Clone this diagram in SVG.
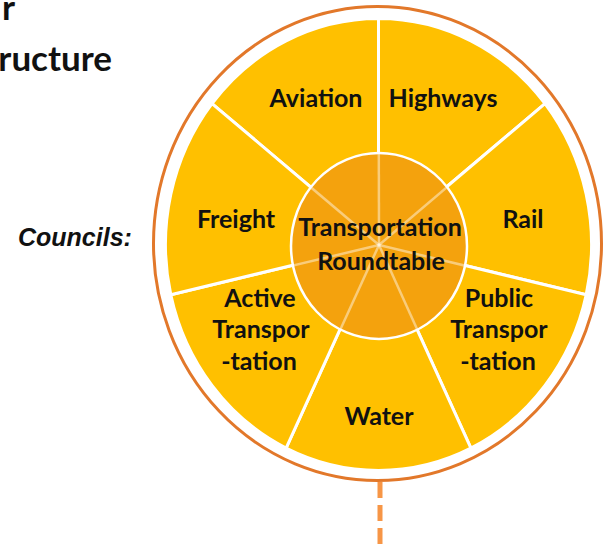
<svg xmlns="http://www.w3.org/2000/svg" width="605" height="548" viewBox="0 0 605 548">
<style>
.sec{fill:#FFC000;stroke:#FFFFFF;stroke-width:3;stroke-linejoin:round}
.lbl{font-family:Lato,"Open Sans","Liberation Sans",sans-serif;font-weight:bold;font-size:25px;fill:#111111;text-anchor:middle}
.ttl{font-family:Lato,"Open Sans","Liberation Sans",sans-serif;font-weight:bold;font-size:35px;fill:#111111;text-anchor:end}
.ispoke{stroke:#FFFFFF;stroke-opacity:0.45;stroke-width:2.5}
</style>
<defs>
<clipPath id="innerClip"><ellipse cx="379" cy="246" rx="88" ry="93"/></clipPath>
</defs>
<rect width="605" height="548" fill="#FFFFFF"/>
<g id="title">
<text class="ttl" x="15" y="20">r</text>
<text class="ttl" x="112" y="71">ructure</text>
</g>
<g id="councils-label">
<text x="18" y="246" font-family="'Liberation Sans',Arial,sans-serif" font-weight="bold" font-style="italic" font-size="25" fill="#111111">Councils:</text>
</g>
<g id="ring">
<ellipse cx="377.5" cy="243.5" rx="224" ry="237" fill="none" stroke="#E2782A" stroke-width="3"/>
</g>
<g id="aviation">
<path class="sec" d="M378.5 244.5 L212 103.6 A213 226 0 0 1 378.5 18.5 Z"/>
<text class="lbl" x="316" y="107">Aviation</text>
</g>
<g id="highways">
<path class="sec" d="M378.5 244.5 L378.5 18.5 A213 226 0 0 1 545 103.6 Z"/>
<text class="lbl" x="443" y="107">Highways</text>
</g>
<g id="rail">
<path class="sec" d="M378.5 244.5 L545 103.6 A213 226 0 0 1 586.2 294.8 Z"/>
<text class="lbl" x="523" y="228">Rail</text>
</g>
<g id="public-transportation">
<path class="sec" d="M378.5 244.5 L586.2 294.8 A213 226 0 0 1 470.9 448.1 Z"/>
<text class="lbl" x="499" y="307">Public</text>
<text class="lbl" x="499" y="338">Transpor</text>
<text class="lbl" x="498" y="370">-tation</text>
</g>
<g id="water">
<path class="sec" d="M378.5 244.5 L470.9 448.1 A213 226 0 0 1 286.1 448.1 Z"/>
<text class="lbl" x="379" y="425">Water</text>
</g>
<g id="active-transportation">
<path class="sec" d="M378.5 244.5 L286.1 448.1 A213 226 0 0 1 170.8 294.8 Z"/>
<text class="lbl" x="260" y="307">Active</text>
<text class="lbl" x="261" y="338">Transpor</text>
<text class="lbl" x="259" y="370">-tation</text>
</g>
<g id="freight">
<path class="sec" d="M378.5 244.5 L170.8 294.8 A213 226 0 0 1 212 103.6 Z"/>
<text class="lbl" x="236" y="228">Freight</text>
</g>
<g id="roundtable">
<ellipse cx="379" cy="246" rx="88" ry="93" fill="#F4A20D"/>
<g clip-path="url(#innerClip)">
<line class="ispoke" x1="379" y1="245" x2="378.5" y2="18.5"/>
<line class="ispoke" x1="379" y1="245" x2="545" y2="103.6"/>
<line class="ispoke" x1="379" y1="245" x2="586.2" y2="294.8"/>
<line class="ispoke" x1="379" y1="245" x2="470.9" y2="448.1"/>
<line class="ispoke" x1="379" y1="245" x2="286.1" y2="448.1"/>
<line class="ispoke" x1="379" y1="245" x2="170.8" y2="294.8"/>
<line class="ispoke" x1="379" y1="245" x2="212" y2="103.6"/>
</g>
<ellipse cx="379" cy="246" rx="88" ry="93" fill="none" stroke="#FFFFFF" stroke-width="2.5"/>
<text class="lbl" x="380" y="236">Transportation</text>
<text class="lbl" x="381" y="270">Roundtable</text>
</g>
<g id="connectors">
<line x1="380" y1="482" x2="380" y2="548" stroke="#F79646" stroke-width="5" stroke-dasharray="16 7"/>
</g>
</svg>
